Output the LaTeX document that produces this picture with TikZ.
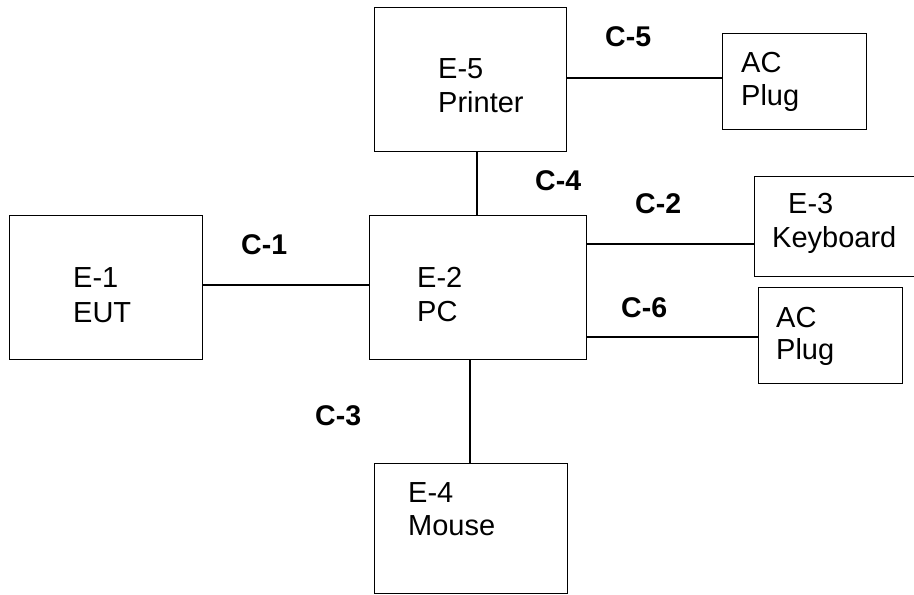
\documentclass[tikz,border=0pt]{standalone}
\usepackage{fontspec}
\setmainfont{Liberation Sans}
\usetikzlibrary{calc}
\tikzset{
  box/.style={draw, line width=1.4pt, inner sep=0pt, minimum width=#1},
  lbl/.style={anchor=base west, inner sep=0pt, font=\fontsize{29}{34}\selectfont},
  clbl/.style={anchor=base west, inner sep=0pt, font=\fontsize{28.5}{34}\selectfont\bfseries},
  wire/.style={line width=1.4pt}
}
\newcommand{\boxat}[5]{\node[box=#4pt, minimum height=#5pt, anchor=north west] (#1) at (#2,#3) {};}
\begin{document}
\begin{tikzpicture}[x=1pt,y=-1pt]
\useasboundingbox (0,0) rectangle (914,595);
\clip (0,0) rectangle (914,595);
% boxes
\boxat{E5}{374}{7}{192}{144}
\boxat{AC1}{722}{33}{144}{96}
\boxat{E1}{9}{215}{193}{144}
\boxat{E2}{369}{215}{217}{144}
\boxat{E3}{754}{176}{220}{100}
\boxat{AC2}{758}{287}{144}{96}
\boxat{E4}{374}{463}{193}{130}
% texts
\node[lbl] (t5a) at (438,78) {E-5};
\node[lbl] (t5b) at (438,112) {Printer};
\node[lbl] (ta1) at (741,72) {AC};
\node[lbl] (tb1) at (741,105) {Plug};
\node[lbl] (t1a) at (73,287) {E-1};
\node[lbl] (t1b) at (73,322) {EUT};
\node[lbl] (t2a) at (417,287) {E-2};
\node[lbl] (t2b) at (417,321) {PC};
\node[lbl] (t3a) at (788,213) {E-3};
\node[lbl] (t3b) at (772,247) {Keyboard};
\node[lbl] (ta2) at (776,327) {AC};
\node[lbl] (tb2) at (776,359) {Plug};
\node[lbl] (t4a) at (408,502) {E-4};
\node[lbl] (t4b) at (408,535) {Mouse};
% cable labels
\node[clbl] (c5) at (605,46) {C-5};
\node[clbl] (c4) at (535,190) {C-4};
\node[clbl] (c2) at (635,213) {C-2};
\node[clbl] (c1) at (241,254) {C-1};
\node[clbl] (c6) at (621,317) {C-6};
\node[clbl] (c3) at (315,425) {C-3};
% wires
\draw[wire] ($(E5.north east)+(0,71)$) coordinate (w5) -- (w5 -| AC1.west);
\draw[wire] ($(E2.north west)+(108,0)$) coordinate (w4) -- (w4 |- E5.south);
\draw[wire] ($(E1.north east)+(0,70)$) coordinate (w1) -- (w1 -| E2.west);
\draw[wire] ($(E2.north east)+(0,29)$) coordinate (w2) -- (w2 -| E3.west);
\draw[wire] ($(E2.north east)+(0,122)$) coordinate (w6) -- (w6 -| AC2.west);
\draw[wire] ($(E2.south west)+(101,0)$) coordinate (w3) -- (w3 |- E4.north);
\end{tikzpicture}
\end{document}
